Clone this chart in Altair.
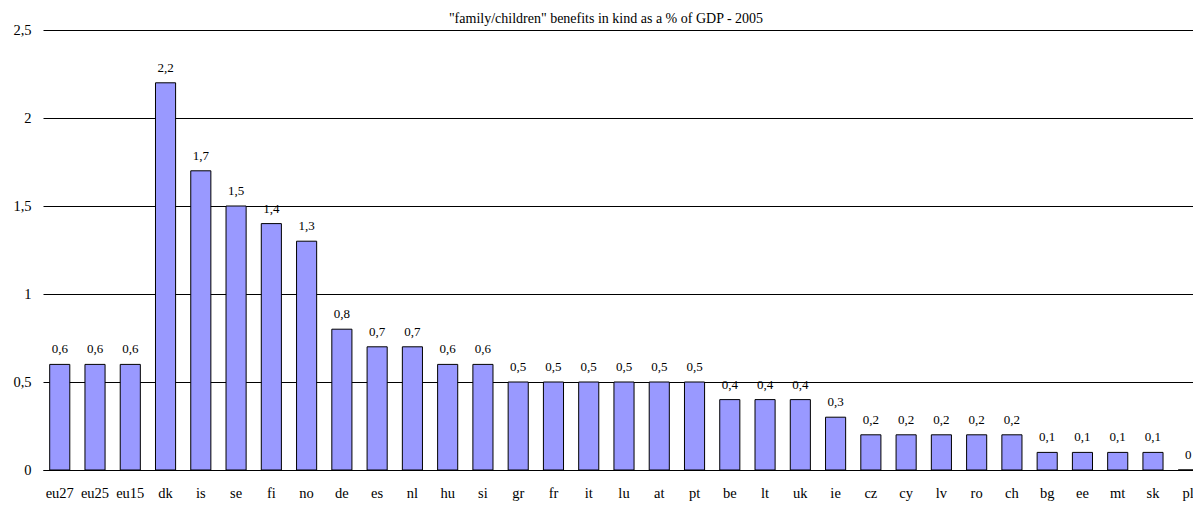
import altair as alt
import pandas as pd

countries = ["eu27", "eu25", "eu15", "dk", "is", "se", "fi", "no", "de", "es", "nl", "hu", "si",
             "gr", "fr", "it", "lu", "at", "pt", "be", "lt", "uk", "ie", "cz", "cy", "lv", "ro",
             "ch", "bg", "ee", "mt", "sk", "pl"]
values = [0.6, 0.6, 0.6, 2.2, 1.7, 1.5, 1.4, 1.3, 0.8, 0.7, 0.7, 0.6, 0.6,
          0.5, 0.5, 0.5, 0.5, 0.5, 0.5, 0.4, 0.4, 0.4, 0.3, 0.2, 0.2, 0.2, 0.2,
          0.2, 0.1, 0.1, 0.1, 0.1, 0.0]
y_ticks = [0, 0.5, 1, 1.5, 2, 2.5]

df = pd.DataFrame({"country": countries, "value": values})
FONT = "'Liberation Serif', 'Times New Roman', serif"

base = alt.Chart(df).transform_calculate(
    label="replace(toString(datum.value), '.', ',')"
)

xscale = alt.Scale(range=[0, 1162], paddingInner=0.43, paddingOuter=0.19)

x = alt.X("country:N", sort=countries, title=None, scale=xscale,
          axis=alt.Axis(labelAngle=0, ticks=False, domain=True, domainColor="black",
                        labelPadding=16, labelFont=FONT, labelFontSize=14.5, labelColor="black"))

bars = base.mark_bar(fill="#9999FF", stroke="black", strokeWidth=1).encode(
    x=x,
    y=alt.Y("value:Q", title=None, scale=alt.Scale(domain=[0, 2.5], nice=False),
            axis=alt.Axis(values=y_ticks, ticks=False, domain=False, grid=True,
                          gridColor="black", gridOpacity=1, gridWidth=1,
                          labelExpr="replace(toString(datum.value), '.', ',')",
                          labelFont=FONT, labelFontSize=14.5, labelColor="black",
                          labelPadding=12)),
)

text = base.mark_text(baseline="bottom", dy=-8, font=FONT, fontSize=13, color="black").encode(
    x=alt.X("country:N", sort=countries),
    y=alt.Y("value:Q"),
    text="label:N",
)

chart = alt.layer(bars, text).properties(
    width=1150, height=440,
    title=alt.Title('"family/children" benefits in kind as a % of GDP - 2005',
                    font=FONT, fontSize=14, fontWeight="normal", color="black",
                    offset=-4, dx=-12),
    autosize=alt.AutoSizeParams(type="none"),
    padding={"left": 35, "top": 22, "right": 0, "bottom": 36},
).configure_view(stroke=None)

chart.save("out.html", embed_options={"renderer": "svg", "actions": False})
